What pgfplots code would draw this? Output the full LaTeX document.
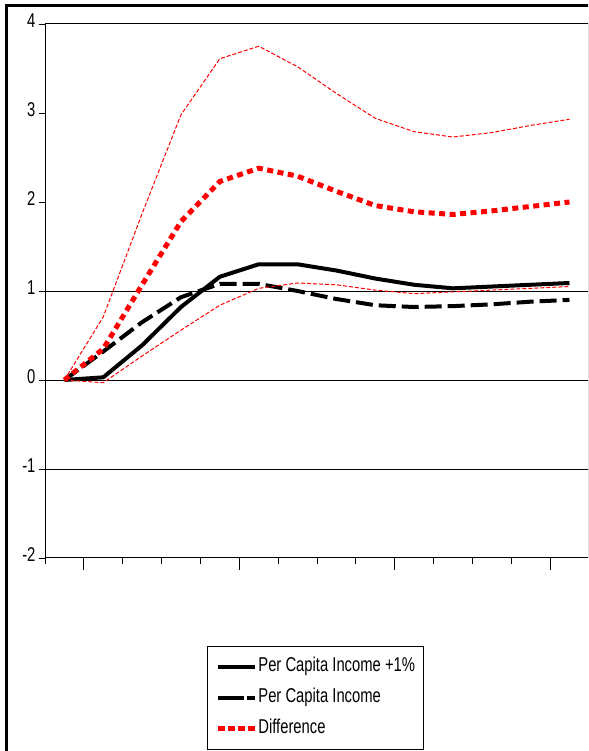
\documentclass[border=0pt]{standalone}
\usepackage{fontspec}
\setmainfont{Liberation Sans}[FakeStretch=0.74]
\usepackage{pgfplots}
\usepackage{pgfplotstable}
\pgfplotsset{compat=1.18}
\pgfplotstableread{
i solid dashed diff upper lower
1 0.00 0.00 0.00 0.00 0.00
2 0.03 0.32 0.35 0.71 -0.03
3 0.39 0.65 1.07 1.87 0.27
4 0.82 0.93 1.78 2.98 0.56
5 1.16 1.08 2.23 3.61 0.84
6 1.30 1.08 2.38 3.75 1.03
7 1.30 1.00 2.29 3.52 1.09
8 1.23 0.91 2.12 3.22 1.07
9 1.14 0.84 1.96 2.94 1.01
10 1.07 0.82 1.89 2.79 0.97
11 1.03 0.83 1.86 2.73 0.99
12 1.05 0.85 1.90 2.78 1.01
13 1.07 0.88 1.95 2.86 1.03
14 1.09 0.90 2.00 2.93 1.05
}\irf
\begin{document}
\begin{tikzpicture}[x=1pt,y=1pt]
\useasboundingbox (0,0) rectangle (588,751);
\clip (0,0) rectangle (588,751);
\draw[line width=3pt] (6.5,-5) -- (6.5,745.5) -- (600,745.5);
\begin{axis}[
  at={(45pt,193pt)}, anchor=south west,
  scale only axis, width=543.9pt, height=534pt,
  xmin=0.5, xmax=14.5, ymin=-2, ymax=4,
  axis line style={line width=1pt},
  xtick={0.5,2.5,3.5,4.5,6.5,7.5,8.5,10.5,11.5,12.5},
  xticklabels={},
  extra x ticks={1.5,5.5,9.5,13.5},
  extra x tick labels={},
  extra x tick style={major tick length=12pt},
  ytick={-2,-1,0,1,2,3,4},
  yticklabels={-2,-1,0,1,2,3,4},
  tick align=outside, major tick length=6pt,
  xtick pos=bottom, ytick pos=left,
  tick style={black, line width=0.8pt},
  yticklabel style={font=\fontsize{20}{22}\selectfont, yshift=3pt},
  legend cell align=left,
  legend image code/.code={\draw[#1] (0pt,0pt) -- (37pt,0pt);},
  legend style={at={(0.2978,-0.1648)}, anchor=north west,
    draw=black, line width=0.8pt, inner xsep=8pt, inner ysep=11pt,
    font=\fontsize{20}{22}\selectfont,
    row sep=12pt, column sep=1pt,
    nodes={inner sep=0pt, text height=14pt, text depth=5pt}},
]
\draw[black, line width=0.8pt] (axis cs:0.5,-1) -- (axis cs:14.5,-1);
\draw[black, line width=0.8pt] (axis cs:0.5,0) -- (axis cs:14.5,0);
\draw[black, line width=0.8pt] (axis cs:0.5,1) -- (axis cs:14.5,1);
\addplot[black, line width=4pt, line join=round] table[x=i, y=solid] {\irf};
\addlegendentry{Per Capita Income +1\%}
\addplot[black, line width=4pt, dash pattern=on 17pt off 6pt,
  legend image post style={dash pattern=on 26pt off 3pt on 8pt off 20pt}] table[x=i, y=dashed] {\irf};
\addlegendentry{Per Capita Income}
\addplot[red, line width=5pt, dash pattern=on 6pt off 4.5pt,
  legend image post style={dash pattern=on 7pt off 3pt}] table[x=i, y=diff] {\irf};
\addlegendentry{Difference}
\addplot[red, line width=1pt, dash pattern=on 4pt off 2pt, forget plot] table[x=i, y=upper] {\irf};
\addplot[red, line width=1pt, dash pattern=on 4pt off 2pt, forget plot] table[x=i, y=lower] {\irf};
\end{axis}
\end{tikzpicture}
\end{document}
